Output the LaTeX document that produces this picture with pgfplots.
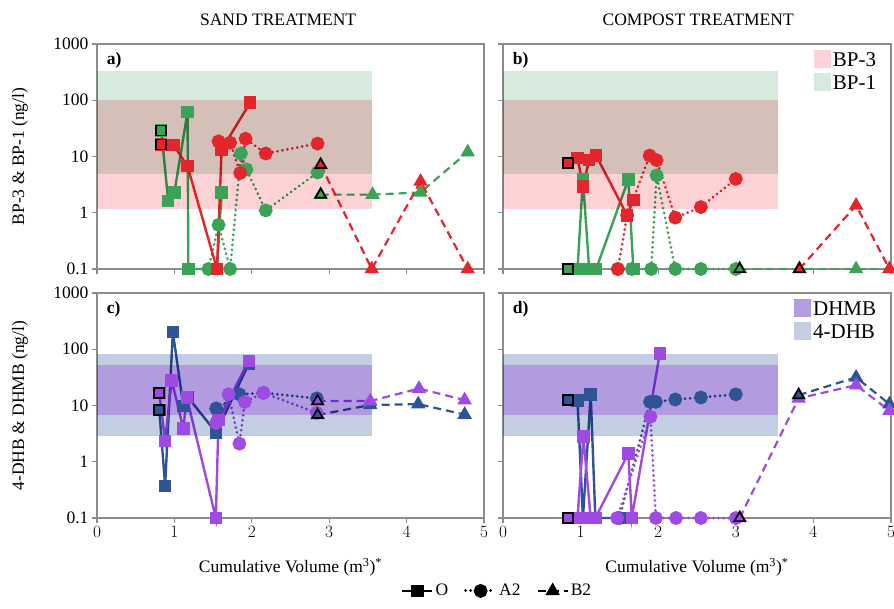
\documentclass[border=0pt]{standalone}
\usepackage{fontspec}
\setmainfont{Liberation Serif}
\usepackage{pgfplots}
\pgfplotsset{compat=1.18}
\definecolor{cred}{HTML}{E3262B}
\definecolor{cgreen}{HTML}{3BA357}
\definecolor{cnavy}{HTML}{2F5496}
\definecolor{cpurple}{HTML}{9F4BE3}
\definecolor{bpink}{HTML}{FDD2D5}
\definecolor{bgreen}{HTML}{D7EADE}
\definecolor{bblue}{HTML}{C4CEE2}
\definecolor{bpurpmul}{HTML}{EAC1FD}
\definecolor{bpurp}{HTML}{B49CE0}
\definecolor{axgray}{HTML}{8C8C8C}
\newcommand{\fs}{\fontsize{17.5}{20}\selectfont}
\newcommand{\fl}{\fontsize{21}{24}\selectfont}
\newcommand{\lst}{\rule[-7.5pt]{0pt}{25pt}}
\pgfplotsset{
  every axis/.append style={
    scale only axis, height=225pt,
    xmin=0, xmax=5, ymin=0.1, ymax=1000,
    xtick={0,1,2,3,4,5},
    ytick={0.1,1,10,100,1000},
    yminorticks=false,
    tick align=outside, tick pos=left,
    major tick length=5pt,
    axis line style={axgray, line width=1.1pt},
    tick style={axgray, line width=1.1pt},
    clip=false,
    ticklabel style={font=\fs, text=black},
    label style={font=\fs},
  },
  myO/.style={line width=2.4pt, mark=square*, mark size=5pt},
  myA/.style={line width=3pt, dash pattern=on 0.01pt off 5pt, line cap=round, mark=*, mark size=5.4pt, mark options={solid}},
  myB/.style={line width=2.2pt, dash pattern=on 8pt off 5pt, mark=triangle*, mark size=6.2pt, mark options={solid}},
  myfirst/.style={only marks, mark options={solid, draw=black, line width=1.7pt}},
}
\begin{document}
\begin{tikzpicture}
\path[use as bounding box] (0pt,0pt) rectangle (894pt,-608pt);
% ---------------- a) ----------------
\begin{axis}[ymode=log, width=387pt, at={(97pt,-44pt)}, anchor=north west, xticklabels={},
  yticklabels={0.1,1,10,100,1000},
  ylabel={BP-3 \& BP-1 (ng/l)}, ylabel style={at={(axis description cs:-0.199,0.5)}, anchor=center}]
\addplot[cgreen, myO, forget plot] coordinates {(0.83,29)(0.92,1.63)(1.0,2.3)(1.17,62)(1.18,0.1)(1.55,0.1)(1.61,2.3)};
\addplot[cgreen, myA, forget plot] coordinates {(1.44,0.1)(1.57,0.61)(1.72,0.1)(1.86,11.3)(1.93,5.9)(2.18,1.1)(2.85,5.2)};
\addplot[cgreen, myB, forget plot] coordinates {(2.89,2.1)(3.56,2.1)(4.18,2.3)(4.79,12)};
\addplot[cred, myO, forget plot] coordinates {(0.83,16.4)(0.94,16)(0.99,16)(1.17,6.7)(1.55,0.1)(1.61,13.3)(1.98,91)};
\addplot[cred, myA, forget plot] coordinates {(1.57,18.6)(1.72,17.6)(1.85,5.1)(1.92,20.7)(2.18,11.3)(2.85,17)};
\addplot[cred, myB, forget plot] coordinates {(2.89,7.1)(3.55,0.1)(4.18,3.6)(4.79,0.1)};
\addplot[cgreen, myO, myfirst, forget plot] coordinates {(0.83,29)};
\addplot[cred, myO, myfirst, forget plot] coordinates {(0.83,16.4)};
\addplot[cgreen, myB, myfirst, forget plot] coordinates {(2.89,2.1)};
\addplot[cred, myB, myfirst, forget plot] coordinates {(2.89,7.1)};
\addplot[draw=none, fill=bpink, blend mode=multiply, forget plot] coordinates {(0,1.15)(3.55,1.15)(3.55,100)(0,100)};
\addplot[draw=none, fill=bgreen, blend mode=multiply, forget plot] coordinates {(0,4.85)(3.55,4.85)(3.55,325)(0,325)};
\node[anchor=north west, inner sep=0pt, font=\fs\bfseries] at (axis description cs:0.025,0.965) {a)};
\node[font=\fs] at (axis description cs:0.468,1.107) {SAND TREATMENT};
\end{axis}
% ---------------- b) ----------------
\begin{axis}[ymode=log, width=388pt, at={(503pt,-44pt)}, anchor=north west, xticklabels={}, yticklabels={},
  legend image code/.code={\fill[#1] (0pt,-9pt) rectangle (17pt,9pt);},
  legend style={at={(0.97,0.99)}, anchor=north east, draw=none, fill=none, font=\fl, row sep=0pt, inner sep=1pt, cells={anchor=west}}]
\addplot[cgreen, myO, forget plot] coordinates {(0.84,0.1)(0.96,0.1)(1.03,4.0)(1.11,0.1)(1.2,0.1)(1.615,3.9)(1.68,0.1)};
\addplot[cgreen, myA, forget plot] coordinates {(1.48,0.1)(1.66,0.1)(1.91,0.1)(1.98,4.6)(2.22,0.1)(2.55,0.1)(3.0,0.1)};
\addplot[cgreen, myB, forget plot] coordinates {(3.05,0.1)(3.82,0.1)(4.55,0.1)(4.98,0.1)};
\addplot[cred, myO, forget plot] coordinates {(0.84,7.7)(0.96,9.5)(1.03,2.95)(1.11,8.6)(1.2,10.4)(1.6,0.9)(1.68,1.7)};
\addplot[cred, myA, forget plot] coordinates {(1.48,0.1)(1.6,0.9)(1.89,10.4)(1.98,8.6)(2.22,0.82)(2.55,1.26)(3.0,4.0)};
\addplot[cred, myB, forget plot] coordinates {(3.82,0.1)(4.55,1.35)(4.98,0.1)};
\addplot[cgreen, myO, myfirst, forget plot] coordinates {(0.84,0.1)};
\addplot[cred, myO, myfirst, forget plot] coordinates {(0.84,7.7)};
\addplot[cgreen, myB, myfirst, forget plot] coordinates {(3.05,0.1)};
\addplot[cred, myB, myfirst, forget plot] coordinates {(3.82,0.1)};
\addplot[draw=none, fill=bpink, blend mode=multiply, forget plot] coordinates {(0,1.15)(3.55,1.15)(3.55,100)(0,100)};
\addplot[draw=none, fill=bgreen, blend mode=multiply, forget plot] coordinates {(0,4.85)(3.55,4.85)(3.55,325)(0,325)};
\addlegendimage{fill=bpink, draw=none}\addlegendentry{\lst BP-3}
\addlegendimage{fill=bgreen, draw=none}\addlegendentry{\lst BP-1}
\node[anchor=north west, inner sep=0pt, font=\fs\bfseries] at (axis description cs:0.025,0.965) {b)};
\node[font=\fs] at (axis description cs:0.503,1.107) {COMPOST TREATMENT};
\end{axis}
% ---------------- c) ----------------
\begin{axis}[ymode=log, width=387pt, at={(97pt,-293pt)}, anchor=north west,
  yticklabels={0.1,1,10,100,1000},
  ylabel={4-DHB \& DHMB (ng/l)}, ylabel style={at={(axis description cs:-0.199,0.5)}, anchor=center},
  xlabel={Cumulative Volume (m\textsuperscript{3})\textsuperscript{*}}, xlabel style={at={(axis description cs:0.5,-0.218)}, anchor=center},
  legend image code/.code={\draw[mark repeat=2, mark phase=2, #1] plot coordinates {(0pt,0pt) (15pt,0pt) (30pt,0pt)};},
  legend columns=3,
  legend style={at={(axis description cs:1.034,-0.324)}, anchor=center, draw=none, fill=none, font=\fs,
    /tikz/every even column/.append style={column sep=14pt}}]
\addplot[cnavy, myO, forget plot] coordinates {(0.805,8.3)(0.88,0.375)(0.98,204)(1.115,9.8)(1.17,14.3)(1.54,3.3)(1.96,55)};
\addplot[cnavy, myA, forget plot] coordinates {(1.54,8.9)(1.84,15.8)(2.15,16.8)(2.84,13.4)};
\addplot[cnavy, myB, forget plot] coordinates {(2.85,6.8)(3.53,10.2)(4.15,10.6)(4.75,6.9)};
\addplot[cpurple, myO, forget plot] coordinates {(0.805,16.8)(0.88,2.36)(0.965,28)(1.115,3.9)(1.16,13.9)(1.535,0.1)(1.57,5.5)(1.96,62)};
\addplot[cpurple, myA, forget plot] coordinates {(1.54,4.9)(1.70,15.8)(1.84,2.1)(1.91,11.6)(2.15,16.8)(2.84,7.4)};
\addplot[cpurple, myB, forget plot] coordinates {(2.85,12)(3.53,12)(4.16,20)(4.75,12.5)};
\addplot[cnavy, myO, myfirst, forget plot] coordinates {(0.805,8.3)};
\addplot[cpurple, myO, myfirst, forget plot] coordinates {(0.805,16.8)};
\addplot[cnavy, myB, myfirst, forget plot] coordinates {(2.85,6.8)};
\addplot[cpurple, myB, myfirst, forget plot] coordinates {(2.85,12)};
\addplot[draw=none, fill=bblue, blend mode=multiply, forget plot] coordinates {(0,2.9)(3.55,2.9)(3.55,84)(0,84)};
\addplot[draw=none, fill=bpurpmul, blend mode=multiply, forget plot] coordinates {(0,6.7)(3.55,6.7)(3.55,53)(0,53)};
\addlegendimage{black, myO}\addlegendentry{O}
\addlegendimage{black, myA}\addlegendentry{A2}
\addlegendimage{black, myB}\addlegendentry{B2}
\node[anchor=north west, inner sep=0pt, font=\fs\bfseries] at (axis description cs:0.025,0.965) {c)};
\end{axis}
% ---------------- d) ----------------
\begin{axis}[ymode=log, width=388pt, at={(503pt,-293pt)}, anchor=north west, yticklabels={},
  xlabel={Cumulative Volume (m\textsuperscript{3})\textsuperscript{*}}, xlabel style={at={(axis description cs:0.5,-0.218)}, anchor=center},
  legend image code/.code={\fill[#1] (0pt,-9pt) rectangle (17pt,9pt);},
  legend style={at={(0.97,0.99)}, anchor=north east, draw=none, fill=none, font=\fl, row sep=0pt, inner sep=1pt, cells={anchor=west}}]
\addplot[cnavy, myO, forget plot] coordinates {(0.84,12.5)(0.96,12.3)(1.03,0.1)(1.13,15.8)(1.19,0.1)(1.6,0.1)};
\addplot[cnavy, myA, forget plot] coordinates {(1.5,0.1)(1.895,11.6)(1.97,11.6)(2.22,12.8)(2.55,13.9)(3.0,15.8)};
\addplot[cnavy, myB, forget plot] coordinates {(3.81,15.3)(4.55,31.6)(4.98,10.6)};
\addplot[cpurple, myO, forget plot] coordinates {(0.84,0.1)(0.96,0.1)(1.035,2.8)(1.13,0.1)(1.19,0.1)(1.615,1.4)(1.66,0.1)(2.02,84)};
\addplot[cpurple, myA, forget plot] coordinates {(1.47,0.1)(1.90,6.3)(1.97,0.1)(2.23,0.1)(2.55,0.1)(3.0,0.1)};
\addplot[cpurple, myB, forget plot] coordinates {(3.05,0.1)(3.81,13.4)(4.55,23)(4.98,8.1)};
\addplot[cnavy, myO, myfirst, forget plot] coordinates {(0.84,12.5)};
\addplot[cpurple, myO, myfirst, forget plot] coordinates {(0.84,0.1)};
\addplot[cpurple, myB, myfirst, forget plot] coordinates {(3.05,0.1)};
\addplot[cnavy, myB, myfirst, forget plot] coordinates {(3.81,15.3)};
\addplot[draw=none, fill=bblue, blend mode=multiply, forget plot] coordinates {(0,2.9)(3.55,2.9)(3.55,84)(0,84)};
\addplot[draw=none, fill=bpurpmul, blend mode=multiply, forget plot] coordinates {(0,6.7)(3.55,6.7)(3.55,53)(0,53)};
\addlegendimage{fill=bpurp, draw=none}\addlegendentry{\lst DHMB}
\addlegendimage{fill=bblue, draw=none}\addlegendentry{\lst 4-DHB}
\node[anchor=north west, inner sep=0pt, font=\fs\bfseries] at (axis description cs:0.025,0.965) {d)};
\end{axis}
\end{tikzpicture}
\end{document}
